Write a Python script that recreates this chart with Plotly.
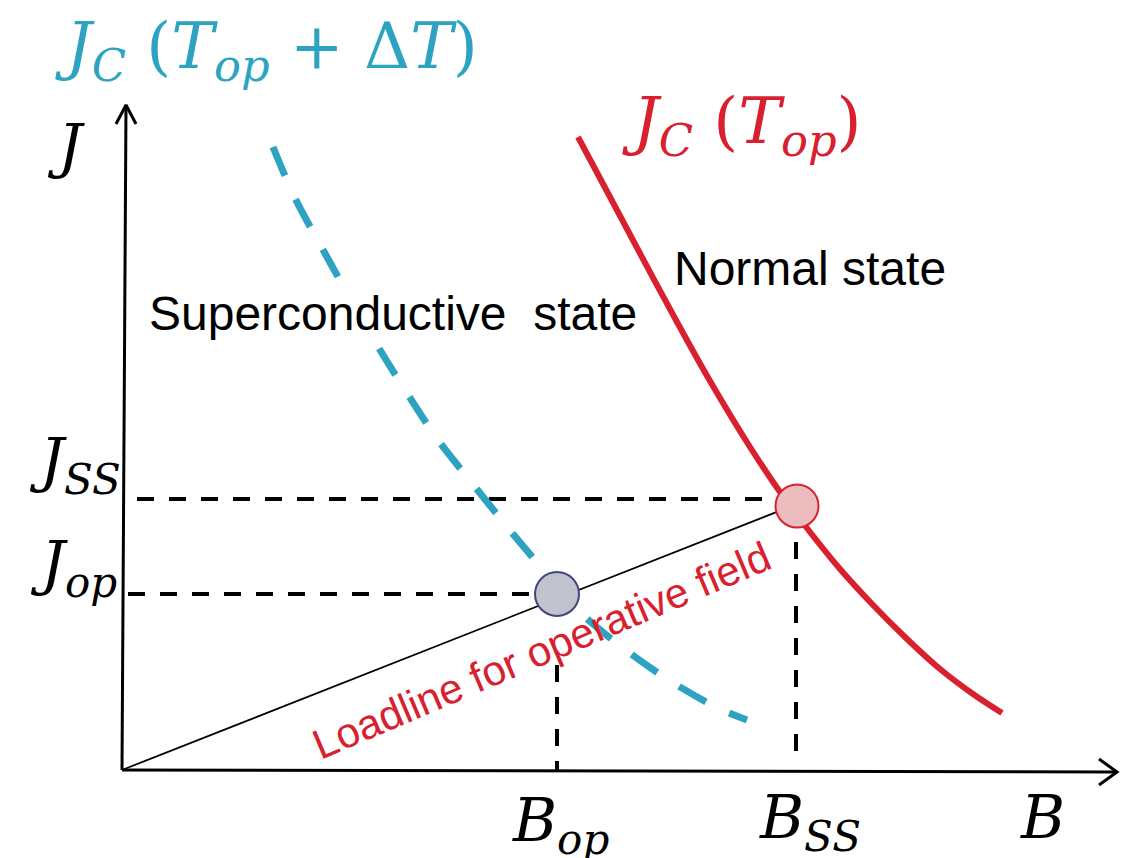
import plotly.graph_objects as go

# ---- data (B, J in arbitrary schematic units) ----
# critical current density at T_op (solid red)
B_jc_top = [4.56, 4.88, 5.21, 5.55, 5.88, 6.28, 6.58, 6.88, 7.18, 7.51, 7.85, 8.18, 8.51, 8.80]
J_jc_top = [6.33, 5.73, 5.11, 4.48, 3.89, 3.23, 2.78, 2.38, 2.01, 1.65, 1.31, 1.01, 0.76, 0.57]

# critical current density at T_op + dT (dashed cyan)
B_jc_dt = [1.51, 1.73, 2.00, 2.28, 2.55, 2.85, 3.16, 3.50, 3.86, 4.23, 4.58, 5.01, 5.50, 5.96, 6.25]
J_jc_dt = [6.23, 5.72, 5.22, 4.72, 4.25, 3.77, 3.30, 2.87, 2.42, 1.98, 1.58, 1.22, 0.88, 0.62, 0.50]

# operating point and short-sample point
B_op, J_op = 4.35, 1.76
B_ss, J_ss_pt = 6.75, 2.64
J_ss = 2.71          # level of the J_SS guide
B_ss_tick = 6.74     # position of the B_SS guide

B_axis_end = 9.95
J_axis_end = 6.65

RED = "#D9202E"
CYAN = "#2EA3C1"
SERIF = "DejaVu Serif"
SANS = "Liberation Sans"

fig = go.Figure()

# axes (lines + chevron heads)
ax_style = dict(color="black", width=3)
fig.add_trace(go.Scatter(x=[0, B_axis_end], y=[0, -0.02], mode="lines", line=ax_style, hoverinfo="skip"))
fig.add_trace(go.Scatter(x=[0, 0.04], y=[0, J_axis_end], mode="lines", line=ax_style, hoverinfo="skip"))
fig.add_trace(go.Scatter(x=[B_axis_end - 0.18, B_axis_end, B_axis_end - 0.18],
                         y=[0.11, -0.02, -0.15], mode="lines", line=ax_style, hoverinfo="skip"))
fig.add_trace(go.Scatter(x=[0.04 - 0.10, 0.04, 0.04 + 0.10],
                         y=[J_axis_end - 0.19, J_axis_end, J_axis_end - 0.19], mode="lines",
                         line=ax_style, hoverinfo="skip"))

# dashed guide lines
dash_style = dict(color="black", width=4, dash="17px,15px")
fig.add_trace(go.Scatter(x=[0.15, B_ss - 0.2], y=[J_ss, J_ss], mode="lines", line=dash_style, hoverinfo="skip"))
fig.add_trace(go.Scatter(x=[0.06, B_op - 0.14], y=[J_op, J_op], mode="lines", line=dash_style, hoverinfo="skip"))
fig.add_trace(go.Scatter(x=[B_op, B_op], y=[1.05, 0], mode="lines", line=dash_style, hoverinfo="skip"))
fig.add_trace(go.Scatter(x=[B_ss_tick, B_ss_tick], y=[2.28, 0.15], mode="lines", line=dash_style, hoverinfo="skip"))

# critical current curves
fig.add_trace(go.Scatter(x=B_jc_dt, y=J_jc_dt, mode="lines",
                         line=dict(color=CYAN, width=7, dash="31px,26px", shape="spline", smoothing=1.0),
                         hoverinfo="skip"))
fig.add_trace(go.Scatter(x=B_jc_top, y=J_jc_top, mode="lines",
                         line=dict(color=RED, width=6, shape="spline", smoothing=1.0),
                         hoverinfo="skip"))

# load line
fig.add_trace(go.Scatter(x=[0, B_ss], y=[0, 2.66], mode="lines",
                         line=dict(color="black", width=1.8), hoverinfo="skip"))

# points
fig.add_trace(go.Scatter(x=[B_op], y=[J_op], mode="markers",
                         marker=dict(size=44, color="#C1C2CD", line=dict(color="#3F4680", width=2)),
                         hoverinfo="skip"))
fig.add_trace(go.Scatter(x=[B_ss], y=[J_ss_pt], mode="markers",
                         marker=dict(size=43, color="#EBBDBE", line=dict(color=RED, width=2)),
                         hoverinfo="skip"))

ann = []
def label(x, y, text, size, color="black", family=SERIF, angle=0, bg=None):
    d = dict(x=x, y=y, xref="x", yref="y", text=text, showarrow=False,
             font=dict(family=family, size=size, color=color),
             xanchor="center", yanchor="middle", textangle=angle)
    if bg:
        d["bgcolor"] = bg
    ann.append(d)

label(1.44, 7.20, "<i>J</i><sub><i>C</i></sub> (<i>T</i><sub><i>op</i></sub> + Δ<i>T</i>)", 64, CYAN)
label(6.20, 6.45, "<i>J</i><sub><i>C</i></sub> (<i>T</i><sub><i>op</i></sub>)", 64, RED)
label(-0.56, 6.24, "<i>J</i>", 60)
label(-0.47, 3.06, "<i>J</i><sub><i>SS</i></sub>", 60)
label(-0.49, 2.03, "<i>J</i><sub><i>op</i></sub>", 60)
label(4.38, -0.54, "<i>B</i><sub><i>op</i></sub>", 60)
label(6.88, -0.51, "<i>B</i><sub><i>SS</i></sub>", 60)
label(9.20, -0.47, "<i>B</i>", 60)
label(6.88, 5.02, "Normal state", 48, family=SANS)
label(2.71, 4.57, "Superconductive  state", 48, family=SANS, bg="white")
label(4.19, 1.20, "Loadline for operative field", 42, RED, SANS, -23)

fig.update_layout(
    width=1126, height=850,
    margin=dict(l=0, r=0, t=0, b=0),
    paper_bgcolor="white", plot_bgcolor="white",
    showlegend=False,
    xaxis=dict(range=[-1.14, 10.12], visible=False, fixedrange=True),
    yaxis=dict(range=[-0.88, 7.62], visible=False, fixedrange=True),
    annotations=ann,
)

fig.write_html("out.html")
